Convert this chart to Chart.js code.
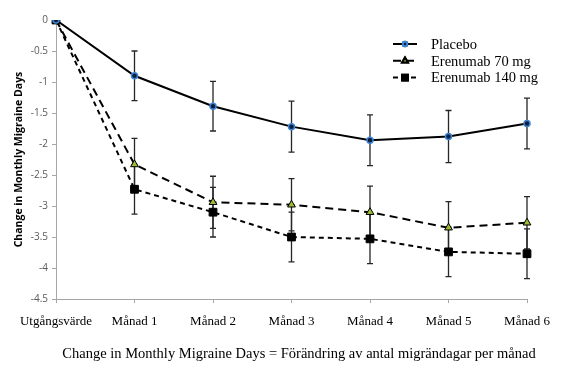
<!DOCTYPE html>
<html>
<head>
<meta charset="utf-8">
<script src="https://cdn.jsdelivr.net/npm/chart.js@4.4.1/dist/chart.umd.min.js"></script>
<style>
  html, body { margin: 0; padding: 0; background: #fff; }
  #wrap { width: 570px; height: 376px; }
</style>
</head>
<body>
<div id="wrap"><canvas id="chart" width="570" height="376"></canvas></div>
<script>
// Data
const months = ['Utgångsvärde', 'Månad 1', 'Månad 2', 'Månad 3', 'Månad 4', 'Månad 5', 'Månad 6'];
const placebo = [0, -0.9, -1.39, -1.72, -1.94, -1.88, -1.67];
const placeboErr = [0, 0.4, 0.4, 0.41, 0.41, 0.42, 0.41];
const eren70 = [0, -2.33, -2.94, -2.98, -3.1, -3.35, -3.27];
const eren70Err = [0, 0.42, 0.42, 0.42, 0.42, 0.42, 0.42];
const eren140 = [0, -2.73, -3.1, -3.5, -3.53, -3.74, -3.77];
const eren140Err = [0, 0.4, 0.4, 0.4, 0.4, 0.4, 0.4];
const yTicks = [0, -0.5, -1, -1.5, -2, -2.5, -3, -3.5, -4, -4.5];

const errors = [placeboErr, eren70Err, eren140Err];

// 1. Error bars (drawn under the lines and markers)
const errorBars = {
    id: 'errorBars',
    beforeDatasetsDraw(chart) {
        const ctx = chart.ctx;
        const y = chart.scales.y;
        ctx.save();
        ctx.strokeStyle = '#262626';
        ctx.lineWidth = 1.3;
        chart.data.datasets.forEach((ds, di) => {
            const meta = chart.getDatasetMeta(di);
            meta.data.forEach((pt, i) => {
                const e = errors[di][i];
                if (!e) return;
                const top = y.getPixelForValue(ds.data[i] + e);
                const bot = y.getPixelForValue(ds.data[i] - e);
                ctx.beginPath();
                ctx.moveTo(pt.x, top); ctx.lineTo(pt.x, bot);
                ctx.moveTo(pt.x - 3, top); ctx.lineTo(pt.x + 3, top);
                ctx.moveTo(pt.x - 3, bot); ctx.lineTo(pt.x + 3, bot);
                ctx.stroke();
            });
        });
        ctx.restore();
    }
};

// 2. Legend with line sample + marker, like the original
const lineLegend = {
    id: 'lineLegend',
    afterDraw(chart) {
        const ctx = chart.ctx;
        ctx.save();
        chart.data.datasets.forEach((ds, i) => {
            const yy = 44 + i * 16.8;
            ctx.strokeStyle = '#000';
            ctx.lineWidth = 2;
            ctx.setLineDash(ds.borderDash || []);
            ctx.beginPath();
            ctx.moveTo(393, yy); ctx.lineTo(417, yy);
            ctx.stroke();
            ctx.setLineDash([]);
            Chart.helpers.drawPoint(ctx, {
                pointStyle: ds.pointStyle,
                radius: ds.pointRadius * 0.75,
                borderWidth: ds.pointBorderWidth
            }, 405, yy);
            ctx.fillStyle = ds.pointBackgroundColor;
            ctx.strokeStyle = ds.pointBorderColor;
            ctx.fill();
            ctx.stroke();
            ctx.fillStyle = '#000';
            ctx.font = '14.5px "Liberation Serif", "Times New Roman", serif';
            ctx.textBaseline = 'middle';
            ctx.fillText(ds.label, 431, yy + 1);
        });
        ctx.restore();
    }
};

// 3. Caption under the chart (centred a bit right of the plot, as in the original)
const caption = {
    id: 'caption',
    afterDraw(chart) {
        const ctx = chart.ctx;
        ctx.save();
        ctx.fillStyle = '#000';
        ctx.font = '14.5px "Liberation Serif", "Times New Roman", serif';
        ctx.textAlign = 'center';
        ctx.textBaseline = 'middle';
        ctx.fillText('Change in Monthly Migraine Days = Förändring av antal migrändagar per månad', 299, 354);
        ctx.restore();
    }
};

new Chart(document.getElementById('chart').getContext('2d'), {
    type: 'line',
    data: {
        labels: months,
        datasets: [
            {
                label: 'Placebo',
                data: placebo,
                borderColor: '#000',
                borderWidth: 2,
                pointStyle: 'circle',
                pointRadius: 3,
                pointBackgroundColor: '#0d1f3c',
                pointBorderColor: '#3d85d6',
                pointBorderWidth: 1.5
            },
            {
                label: 'Erenumab 70 mg',
                data: eren70,
                borderColor: '#000',
                borderWidth: 2,
                borderDash: [8, 5],
                pointStyle: 'triangle',
                pointRadius: 4.5,
                pointBackgroundColor: '#9bbb33',
                pointBorderColor: '#000',
                pointBorderWidth: 1
            },
            {
                label: 'Erenumab 140 mg',
                data: eren140,
                borderColor: '#000',
                borderWidth: 2,
                borderDash: [5, 4],
                pointStyle: 'rect',
                pointRadius: 5.5,
                pointBackgroundColor: '#000',
                pointBorderColor: '#000',
                pointBorderWidth: 1
            }
        ]
    },
    options: {
        responsive: false,
        animation: false,
        layout: { padding: { top: 20, right: 43, left: 0, bottom: 0 } },
        plugins: {
            legend: { display: false },
            tooltip: { enabled: false }
        },
        scales: {
            x: {
                type: 'category',
                offset: false,
                grid: { drawOnChartArea: false, color: '#a6a6a6', tickLength: 4 },
                border: { color: '#a6a6a6', width: 1 },
                ticks: {
                    color: '#000',
                    padding: 11,
                    maxRotation: 0,
                    autoSkip: false,
                    font: { family: '"Liberation Serif", "Times New Roman", serif', size: 13 }
                },
                afterFit(scale) { scale.height = 77; }
            },
            y: {
                min: -4.5,
                max: 0,
                afterBuildTicks(scale) { scale.ticks = yTicks.map(v => ({ value: v })); },
                grid: { drawOnChartArea: false, color: '#a6a6a6', tickLength: 4 },
                border: { color: '#a6a6a6', width: 1 },
                ticks: {
                    color: '#595959',
                    padding: 4,
                    callback: v => String(v),
                    font: { family: '"Open Sans", "Noto Sans", sans-serif', size: 10 }
                },
                title: {
                    display: true,
                    text: 'Change in Monthly Migraine Days',
                    color: '#000',
                    padding: { top: 13, bottom: 0 },
                    font: { family: '"Open Sans", "Noto Sans", sans-serif', size: 10.5, weight: 'bold' }
                },
                afterFit(scale) { scale.width = 56; }
            }
        }
    },
    plugins: [errorBars, lineLegend, caption]
});
</script>
</body>
</html>
